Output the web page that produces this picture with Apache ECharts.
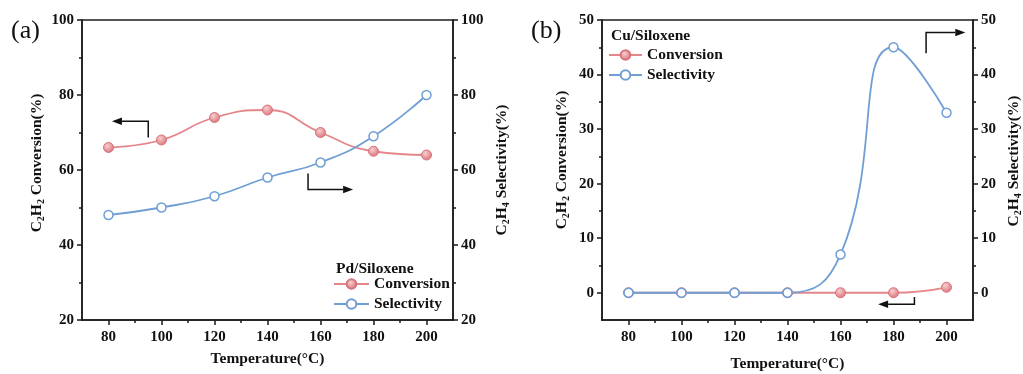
<!DOCTYPE html>
<html><head><meta charset="utf-8">
<script src="https://cdn.jsdelivr.net/npm/echarts@6/dist/echarts.min.js"></script>
<style>html,body{margin:0;padding:0;background:#fff}#c{width:1023px;height:374px}</style>
</head><body><div id="c"></div>
<script>
const temperatures = [80, 100, 120, 140, 160, 180, 200];
const pdConversion = [66, 68, 74, 76, 70, 65, 64];
const pdSelectivity = [48, 50, 53, 58, 62, 69, 80];
const cuConversion = [0, 0, 0, 0, 0, 0, 1];
const cuSelectivity = [0, 0, 0, 0, 7, 45, 33];
const xTickLabels = [80, 100, 120, 140, 160, 180, 200];
const xMinorTicks = [90, 110, 130, 150, 170, 190];
const pdYTickLabels = [20, 40, 60, 80, 100];
const pdYMinorTicks = [30, 50, 70, 90];
const cuYTickLabels = [0, 10, 20, 30, 40, 50];
const cuYMinorTicks = [5, 15, 25, 35, 45];
// annotation arrows in data coordinates
const arrowsPd = [
  [[95, 68.7], [95, 73], [81.3, 73]],
  [[155.3, 59.1], [155.3, 54.8], [172.3, 54.8]]
];
const arrowsCu = [
  [[192.3, 43.9], [192.3, 47.7], [207.1, 47.7]],
  [[187.9, -0.8], [187.9, -2.1], [174.2, -2.1]]
];

const FONT = '"Liberation Serif", "Times New Roman", serif';
const RED = '#e4868a';
const BLUE = '#6f9fd4';
const AXC = '#1a1a1a';
const pair = (a) => temperatures.map((t, i) => [t, a[i]]);

const rich = {
  n: { fontFamily: FONT, fontWeight: 'bold', fontSize: 15.5, color: '#111', lineHeight: 18 },
  s: { fontFamily: FONT, fontWeight: 'bold', fontSize: 10, color: '#111', lineHeight: 7, verticalAlign: 'bottom' }
};
const convName = '{n|C}{s|2}{n|H}{s|2}{n| Conversion(%)}';
const selName = '{n|C}{s|2}{n|H}{s|4}{n| Selectivity(%)}';

function xAxes(g, gap) {
  return [{
    gridIndex: g, type: 'value', min: 70, max: 210, position: 'bottom',
    axisLine: { show: true, onZero: false, lineStyle: { color: AXC, width: 1.5 } },
    axisTick: { show: true, customValues: xTickLabels, length: 5, lineStyle: { color: AXC, width: 1.5 } },
    axisLabel: { customValues: xTickLabels, fontFamily: FONT, fontWeight: 'bold', fontSize: 15, color: '#111', margin: 10 },
    splitLine: { show: false },
    name: 'Temperature(°C)', nameLocation: 'middle', nameGap: gap,
    nameTextStyle: { fontFamily: FONT, fontWeight: 'bold', fontSize: 15.5, color: '#111' }
  }, {
    gridIndex: g, type: 'value', min: 70, max: 210, position: 'bottom',
    axisLine: { show: false, onZero: false },
    axisTick: { show: true, customValues: xMinorTicks, length: 3, lineStyle: { color: AXC, width: 1.5 } },
    axisLabel: { show: false, customValues: xMinorTicks },
    splitLine: { show: false }
  }];
}
function yAxes(g, min, max, labels, minor, gapL, gapR, shiftL, shiftR) {
  const base = (pos) => ({
    gridIndex: g, type: 'value', min: min, max: max, position: pos,
    axisLine: { show: true, onZero: false, lineStyle: { color: AXC, width: 1.5 } },
    axisTick: { show: true, customValues: labels, length: 5, lineStyle: { color: AXC, width: 1.5 } },
    axisLabel: { customValues: labels, fontFamily: FONT, fontWeight: 'bold', fontSize: 15, color: '#111', margin: 8 },
    splitLine: { show: false }
  });
  const mnr = (pos) => ({
    gridIndex: g, type: 'value', min: min, max: max, position: pos,
    axisLine: { show: false, onZero: false },
    axisTick: { show: true, customValues: minor, length: 3, lineStyle: { color: AXC, width: 1.5 } },
    axisLabel: { show: false, customValues: minor },
    splitLine: { show: false }
  });
  const L = base('left');
  L.name = convName; L.nameLocation = 'middle'; L.nameGap = gapL;
  L.nameTextStyle = { rich: rich, padding: [0, 0, 0, shiftL] };
  const R = base('right');
  R.name = selName; R.nameLocation = 'middle'; R.nameGap = gapR;
  R.nameTextStyle = { rich: rich, padding: [0, 0, 0, shiftR] };
  return [L, mnr('left'), R, mnr('right')];
}

const convItem = {
  color: { type: 'radial', x: 0.4, y: 0.35, r: 0.65,
    colorStops: [{ offset: 0, color: '#f7cfd1' }, { offset: 1, color: '#dc7379' }] },
  borderColor: '#d9737a', borderWidth: 1
};
function series(xi, yl, yr, conv, sel) {
  return [{
    name: 'Conversion', type: 'line', xAxisIndex: xi, yAxisIndex: yl, data: pair(conv),
    smooth: true, symbol: 'circle', symbolSize: 10,
    lineStyle: { color: RED, width: 1.8 }, itemStyle: convItem, z: 3
  }, {
    name: 'Selectivity', type: 'line', xAxisIndex: xi, yAxisIndex: yr, data: pair(sel),
    smooth: true, symbol: 'circle', symbolSize: 9,
    lineStyle: { color: BLUE, width: 1.8 },
    itemStyle: { color: '#fff', borderColor: BLUE, borderWidth: 1.5 }, z: 4
  }];
}

const legendText = { fontFamily: FONT, fontWeight: 'bold', fontSize: 15.5, color: '#111' };
const chart = echarts.init(document.getElementById('c'), null, { renderer: 'canvas' });
chart.setOption({
  animation: false,
  backgroundColor: '#fff',
  grid: [
    { left: 82, top: 20, width: 371, height: 300, show: true, borderColor: '#555', borderWidth: 2,
      containLabel: false, outerBoundsMode: 'none' },
    { left: 602, top: 20, width: 371, height: 300, show: true, borderColor: '#555', borderWidth: 2,
      containLabel: false, outerBoundsMode: 'none' }
  ],
  xAxis: [...xAxes(0, 31), ...xAxes(1, 36)],
  yAxis: [...yAxes(0, 20, 100, pdYTickLabels, pdYMinorTicks, 36, 40, 14, 0),
          ...yAxes(1, -5, 50, cuYTickLabels, cuYMinorTicks, 31, 32, 20, 18)],
  legend: [
    { data: ['Conversion', 'Selectivity'], orient: 'vertical', left: 333, top: 276, padding: 0,
      itemWidth: 35, itemHeight: 12, itemGap: 4, textStyle: legendText, selectedMode: false },
    { data: ['Conversion', 'Selectivity'], orient: 'vertical', left: 608, top: 47, padding: 0,
      itemWidth: 33, itemHeight: 12, itemGap: 4, textStyle: legendText, selectedMode: false }
  ],
  series: [...series(0, 0, 2, pdConversion, pdSelectivity), ...series(2, 4, 6, cuConversion, cuSelectivity)],
  graphic: [
    { id: 'la', type: 'text', left: 11, top: 18, style: { text: '(a)', font: '26px ' + FONT, fill: '#111' } },
    { id: 'lb', type: 'text', left: 531, top: 18, style: { text: '(b)', font: '26px ' + FONT, fill: '#111' } },
    { id: 'ta', type: 'text', left: 336, top: 261, style: { text: 'Pd/Siloxene', font: 'bold 15.5px ' + FONT, fill: '#111' } },
    { id: 'tb', type: 'text', left: 611, top: 28, style: { text: 'Cu/Siloxene', font: 'bold 15.5px ' + FONT, fill: '#111' } }
  ]
});

function arrowGraphics(list, finder, prefix) {
  const out = [];
  list.forEach((pts, k) => {
    const px = pts.map(p => chart.convertToPixel(finder, p));
    const tip = px[px.length - 1], prev = px[px.length - 2];
    const dx = tip[0] - prev[0], dy = tip[1] - prev[1];
    const len = Math.hypot(dx, dy) || 1;
    const ux = dx / len, uy = dy / len;
    const hl = 10, hw = 3.8;
    const base = [tip[0] - ux * hl, tip[1] - uy * hl];
    const line = px.slice(0, -1).concat([base]);
    out.push({ id: prefix + 'l' + k, type: 'polyline', shape: { points: line },
      style: { stroke: '#111', lineWidth: 1.5, fill: null }, z: 10 });
    out.push({ id: prefix + 'h' + k, type: 'polygon', shape: { points: [tip,
      [base[0] - uy * hw, base[1] + ux * hw], [base[0] + uy * hw, base[1] - ux * hw]] },
      style: { fill: '#111' }, z: 10 });
  });
  return out;
}
chart.setOption({ graphic: [
  ...arrowGraphics(arrowsPd, { xAxisIndex: 0, yAxisIndex: 0 }, 'pa'),
  ...arrowGraphics(arrowsCu, { xAxisIndex: 2, yAxisIndex: 4 }, 'pb')
] });
</script></body></html>
